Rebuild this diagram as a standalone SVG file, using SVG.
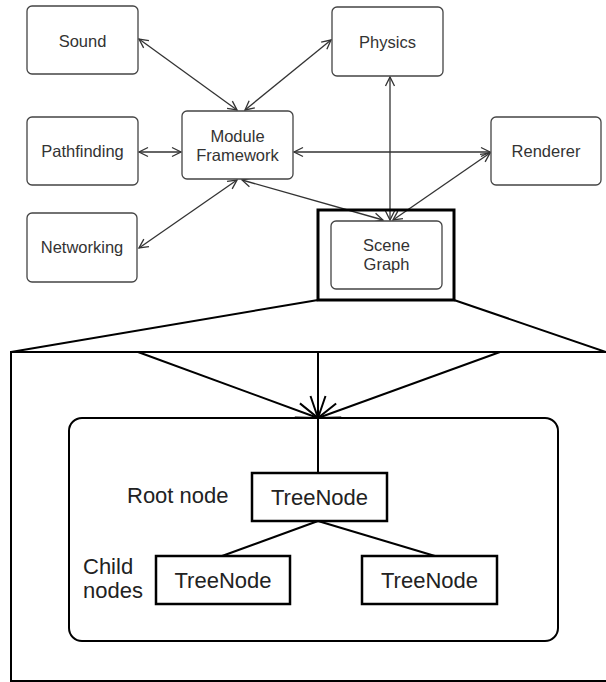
<svg xmlns="http://www.w3.org/2000/svg" width="606" height="682" viewBox="0 0 606 682">
  <style>
    .mod rect { fill: #fff; stroke: #444; stroke-width: 1.3; }
    .mod text { font-family: "Liberation Sans", Arial, sans-serif; font-size: 16.5px; fill: #333; text-anchor: middle; }
    .link { stroke: #333; stroke-width: 1.3; fill: none; marker-start: url(#open); marker-end: url(#open); }
    .heavy { stroke: #000; stroke-width: 2; fill: none; }
    .tree rect { fill: #fff; stroke: #000; stroke-width: 2.5; }
    .big { font-family: "Liberation Sans", Arial, sans-serif; font-size: 22px; fill: #222; }
    .mid { text-anchor: middle; }
  </style>
  <defs>
    <marker id="open" markerUnits="userSpaceOnUse" viewBox="-11 -6 12 12" refX="0" refY="0" markerWidth="12" markerHeight="12" orient="auto-start-reverse" overflow="visible">
      <path d="M-9,-4.5 L0,0 L-9,4.5" fill="none" stroke="#333" stroke-width="1.3"/>
    </marker>
    <marker id="wide" markerUnits="userSpaceOnUse" viewBox="-24 -9 25 18" refX="0" refY="0" markerWidth="25" markerHeight="18" orient="auto" overflow="visible">
      <path d="M-22,-7.5 L0,0 L-22,7.5" fill="none" stroke="#000" stroke-width="2"/>
    </marker>
  </defs>

  <!-- module connectors -->
  <g id="connectors">
    <line class="link" x1="139" y1="39" x2="237" y2="110"/>
    <line class="link" x1="245" y1="110" x2="331" y2="40"/>
    <line class="link" x1="139" y1="152" x2="181" y2="152"/>
    <line class="link" x1="294" y1="152" x2="490" y2="152"/>
    <line class="link" x1="237" y1="180" x2="139" y2="248"/>
    <line class="link" x1="242" y1="180" x2="383" y2="220"/>
    <line class="link" x1="390" y1="77" x2="390" y2="220"/>
    <line class="link" x1="490" y1="153" x2="393" y2="220"/>
  </g>

  <g id="sound" class="mod">
    <rect x="27" y="6" width="111" height="68" rx="5"/>
    <text x="82.5" y="47">Sound</text>
  </g>
  <g id="pathfinding" class="mod">
    <rect x="27" y="117" width="111" height="68" rx="5"/>
    <text x="82.5" y="157">Pathfinding</text>
  </g>
  <g id="networking" class="mod">
    <rect x="27" y="213" width="110" height="69" rx="5"/>
    <text x="82" y="253">Networking</text>
  </g>
  <g id="module-framework" class="mod">
    <rect x="182" y="111" width="111" height="68" rx="5"/>
    <text x="237.5" y="142">Module</text>
    <text x="237.5" y="161">Framework</text>
  </g>
  <g id="physics" class="mod">
    <rect x="332" y="7" width="111" height="69" rx="5"/>
    <text x="387.5" y="48">Physics</text>
  </g>
  <g id="renderer" class="mod">
    <rect x="491" y="117" width="110" height="68" rx="5"/>
    <text x="546" y="157">Renderer</text>
  </g>
  <g id="scene-graph" class="mod">
    <rect x="331" y="221" width="111" height="68" rx="5"/>
    <text x="386.5" y="251">Scene</text>
    <text x="386.5" y="270">Graph</text>
  </g>

  <!-- expanded view of the scene graph -->
  <g id="scene-graph-detail">
    <rect x="318" y="210" width="136" height="90" fill="none" stroke="#000" stroke-width="3"/>
    <line class="heavy" x1="318" y1="300" x2="11" y2="352"/>
    <line class="heavy" x1="454" y1="300" x2="606" y2="352"/>
    <rect x="11" y="352" width="620" height="329" fill="none" stroke="#000" stroke-width="2"/>
    <g id="fan-in">
      <line class="heavy" x1="138" y1="352" x2="318" y2="418" marker-end="url(#wide)"/>
      <line class="heavy" x1="318" y1="352" x2="318" y2="418" marker-end="url(#wide)"/>
      <line class="heavy" x1="500" y1="352" x2="318" y2="418" marker-end="url(#wide)"/>
    </g>
    <rect x="69" y="418" width="489" height="223" rx="13" fill="none" stroke="#000" stroke-width="2"/>
  </g>

  <g id="tree-links">
    <line class="heavy" x1="318" y1="418" x2="318" y2="473"/>
    <line class="heavy" x1="318" y1="521" x2="222" y2="556"/>
    <line class="heavy" x1="318" y1="521" x2="435" y2="556"/>
  </g>

  <g id="root-node" class="tree">
    <rect x="252" y="473" width="135" height="48"/>
    <text class="big mid" x="319.5" y="505">TreeNode</text>
  </g>
  <g id="child-left" class="tree">
    <rect x="156" y="556" width="134" height="48"/>
    <text class="big mid" x="223" y="588">TreeNode</text>
  </g>
  <g id="child-right" class="tree">
    <rect x="362" y="556" width="135" height="48"/>
    <text class="big mid" x="429.5" y="588">TreeNode</text>
  </g>

  <g id="labels">
    <text class="big" x="127" y="503">Root node</text>
    <text class="big" x="83" y="574">Child</text>
    <text class="big" x="83" y="598">nodes</text>
  </g>
</svg>
